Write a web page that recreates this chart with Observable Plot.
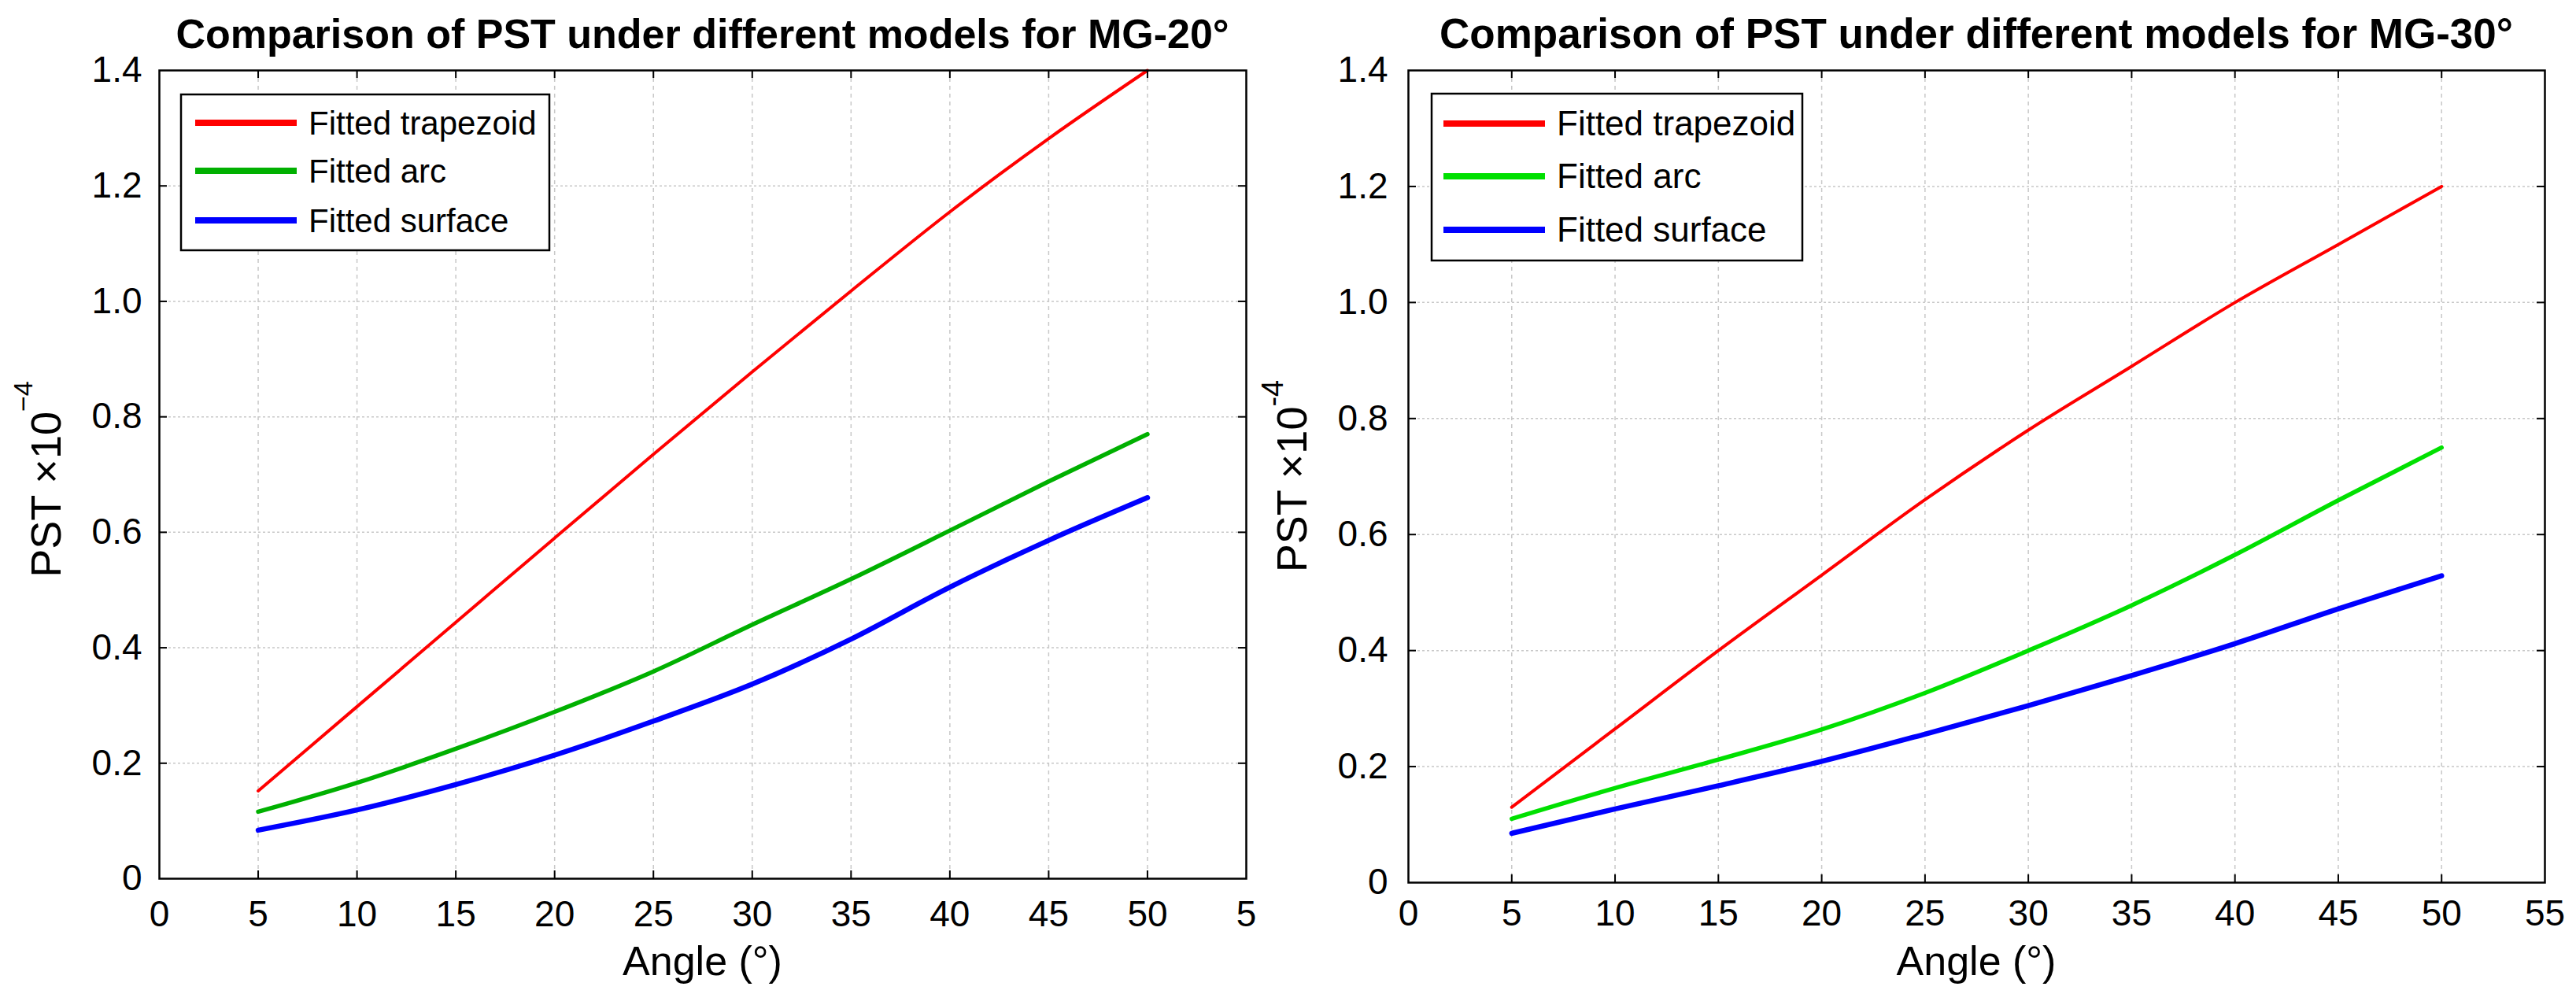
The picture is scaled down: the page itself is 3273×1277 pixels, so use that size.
<!DOCTYPE html>
<html>
<head>
<meta charset="utf-8">
<script src="https://cdn.jsdelivr.net/npm/d3@7"></script>
<script src="https://cdn.jsdelivr.net/npm/@observablehq/plot@0.6"></script>
<style>
  html, body { margin: 0; padding: 0; background: #fff; }
  #wrap { position: relative; width: 3273px; height: 1277px; background: #fff; overflow: hidden; }
  #wrap > div { position: absolute; top: 0; }
</style>
</head>
<body>
<div id="wrap"><div id="c1"></div><div id="c2"></div></div>
<script>
// ---- data ----
const angles = [5, 10, 15, 20, 25, 30, 35, 40, 45, 50];
const mg20Trapezoid = [0.152, 0.298, 0.444, 0.590, 0.735, 0.878, 1.018, 1.155, 1.282, 1.40];
const mg20Arc       = [0.116, 0.166, 0.225, 0.289, 0.359, 0.440, 0.519, 0.603, 0.688, 0.77];
const mg20Surface   = [0.084, 0.119, 0.163, 0.214, 0.273, 0.337, 0.415, 0.505, 0.586, 0.66];
const mg30Trapezoid = [0.13, 0.265, 0.40, 0.53, 0.66, 0.78, 0.89, 1.0, 1.10, 1.2];
const mg30Arc       = [0.11, 0.163, 0.212, 0.264, 0.327, 0.40, 0.478, 0.565, 0.659, 0.75];
const mg30Surface   = [0.085, 0.127, 0.167, 0.209, 0.256, 0.305, 0.357, 0.412, 0.472, 0.529];
const seriesNames = ["Fitted trapezoid", "Fitted arc", "Fitted surface"];
const xTickValues = [0, 5, 10, 15, 20, 25, 30, 35, 40, 45, 50, 55];
const xTickLabelsLeft  = ["0","5","10","15","20","25","30","35","40","45","50","5"];
const xTickLabelsRight = ["0","5","10","15","20","25","30","35","40","45","50","55"];
const yTickValues = [0, 0.2, 0.4, 0.6, 0.8, 1.0, 1.2, 1.4];
const yTickLabels = ["0","0.2","0.4","0.6","0.8","1.0","1.2","1.4"];
const gridX = [5, 10, 15, 20, 25, 30, 35, 40, 45, 50];
const gridY = [0.2, 0.4, 0.6, 0.8, 1.0, 1.2];
const titles = ["Comparison of PST under different models for MG-20°",
                "Comparison of PST under different models for MG-30°"];

const FONT = "'Liberation Sans', Arial, Helvetica, sans-serif";

function chart(cfg) {
  const innerW = cfg.width - cfg.marginLeft - cfg.marginRight;
  const innerH = cfg.height - cfg.marginTop - cfg.marginBottom;
  const xl = new Map(xTickValues.map((v, i) => [v, cfg.xLabels[i]]));
  const yl = new Map(yTickValues.map((v, i) => [v, yTickLabels[i]]));
  const rows = cfg.series.map(vals => angles.map((a, i) => ({angle: a, pst: vals[i]})));
  const svg = Plot.plot({
    width: cfg.width, height: cfg.height,
    marginLeft: cfg.marginLeft, marginRight: cfg.marginRight,
    marginTop: cfg.marginTop, marginBottom: cfg.marginBottom,
    style: {fontFamily: FONT, background: "#fff", color: "#000", overflow: "visible"},
    x: {domain: [0, 55], label: null},
    y: {domain: [0, 1.4], label: null},
    marks: [
      Plot.ruleX(gridX, {stroke: "#c8c8c8", strokeWidth: 1.5, strokeDasharray: "5,5"}),
      Plot.ruleY(gridY, {stroke: "#c8c8c8", strokeWidth: 1.5, strokeDasharray: "3,3"}),
      Plot.line(rows[2], {x: "angle", y: "pst", stroke: cfg.colors[2], strokeWidth: cfg.widths[2], curve: "monotone-x"}),
      Plot.line(rows[1], {x: "angle", y: "pst", stroke: cfg.colors[1], strokeWidth: cfg.widths[1], curve: "monotone-x"}),
      Plot.line(rows[0], {x: "angle", y: "pst", stroke: cfg.colors[0], strokeWidth: cfg.widths[0], curve: "monotone-x"}),
      // inward ticks on all four sides
      Plot.ruleX(gridX, {insetTop: innerH - 10, stroke: "#000", strokeWidth: 2}),
      Plot.ruleX(gridX, {insetBottom: innerH - 10, stroke: "#000", strokeWidth: 2}),
      Plot.ruleY(gridY, {insetRight: innerW - 10, stroke: "#000", strokeWidth: 2}),
      Plot.ruleY(gridY, {insetLeft: innerW - 10, stroke: "#000", strokeWidth: 2}),
      Plot.frame({stroke: "#000", strokeWidth: 2.5}),
      Plot.axisX(xTickValues, {tickSize: 0, tickPadding: cfg.xPad, fontSize: 46, tickFormat: d => xl.get(d)}),
      Plot.axisY(yTickValues, {tickSize: 0, tickPadding: cfg.yPad, fontSize: 46, tickFormat: d => yl.get(d)})
    ]
  });
  const s = d3.select(svg);
  const cx = cfg.marginLeft + innerW / 2;
  // title
  s.append("text").attr("x", cx).attr("y", 61).attr("text-anchor", "middle")
    .attr("font-family", FONT).attr("font-weight", "bold").attr("font-size", cfg.titleSize)
    .attr("fill", "#000").text(cfg.title);
  // x label
  s.append("text").attr("x", cx).attr("y", 1239).attr("text-anchor", "middle")
    .attr("font-family", FONT).attr("font-size", 52).attr("fill", "#000").text("Angle (°)");
  // y label with superscript
  const yt = s.append("text").attr("transform", `translate(${cfg.yLabelX},${cfg.yLabelY}) rotate(-90)`)
    .attr("text-anchor", "middle").attr("font-family", FONT).attr("font-size", 54).attr("fill", "#000");
  yt.append("tspan").text("PST ×10");
  yt.append("tspan").attr("font-size", cfg.supSize).attr("dy", -cfg.supRaise).text(cfg.supText);
  // legend
  const L = cfg.legend;
  const g = s.append("g").attr("text-anchor", "start");
  g.append("rect").attr("x", L.x).attr("y", L.y).attr("width", L.w).attr("height", L.h)
    .attr("fill", "#fff").attr("stroke", "#000").attr("stroke-width", 2.5);
  seriesNames.forEach((name, i) => {
    const y = L.rows[i];
    g.append("line").attr("x1", L.lx1).attr("x2", L.lx2).attr("y1", y).attr("y2", y)
      .attr("stroke", cfg.colors[i]).attr("stroke-width", 8);
    g.append("text").attr("x", L.tx).attr("y", y).attr("dy", "0.35em").attr("text-anchor", "start")
      .attr("font-family", FONT).attr("font-size", L.fs).attr("fill", "#000").text(name);
  });
  return svg;
}

const OFF2 = 1600;
const c1 = chart({
  width: 1600, height: 1277, marginLeft: 202, marginRight: 17, marginTop: 89, marginBottom: 161,
  series: [mg20Trapezoid, mg20Arc, mg20Surface],
  colors: ["#ff0000", "#00b000", "#0000ff"], widths: [4, 5.5, 6.5],
  xLabels: xTickLabelsLeft, xPad: 28, yPad: 22,
  title: titles[0], titleSize: 52,
  yLabelX: 77, yLabelY: 609, supSize: 34, supRaise: 36, supText: "\u22124",
  legend: {x: 230, y: 120, w: 468, h: 198, rows: [156, 217, 280], lx1: 248, lx2: 377, tx: 392, fs: 42}
});
const c2 = chart({
  width: 3273 - OFF2, height: 1277, marginLeft: 1789 - OFF2, marginRight: 3273 - 3233, marginTop: 89, marginBottom: 156,
  series: [mg30Trapezoid, mg30Arc, mg30Surface],
  colors: ["#ff0000", "#00e000", "#0000ff"], widths: [4, 5.5, 6.5],
  xLabels: xTickLabelsRight, xPad: 22, yPad: 26,
  title: titles[1], titleSize: 53,
  yLabelX: 1660 - OFF2, yLabelY: 605, supSize: 38, supRaise: 30, supText: "-4",
  legend: {x: 1819 - OFF2, y: 119, w: 471, h: 212, rows: [157, 224, 292], lx1: 1834 - OFF2, lx2: 1963 - OFF2, tx: 1978 - OFF2, fs: 44}
});
const d1 = document.getElementById("c1"); d1.style.left = "0px"; d1.appendChild(c1);
const d2 = document.getElementById("c2"); d2.style.left = OFF2 + "px"; d2.appendChild(c2);
</script>
</body>
</html>
